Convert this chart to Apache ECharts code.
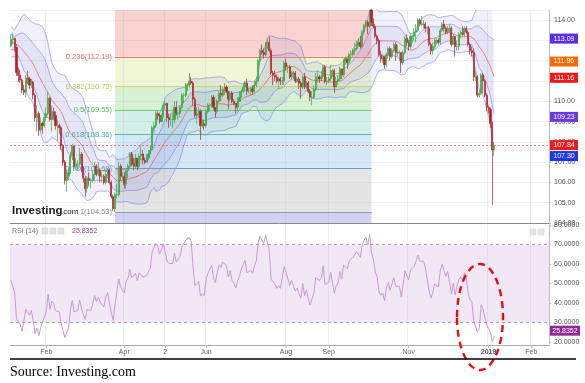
<!DOCTYPE html>
<html><head><meta charset="utf-8">
<script src="https://cdn.jsdelivr.net/npm/echarts@6/dist/echarts.min.js"></script>
<style>html,body{margin:0;padding:0;background:#fff}#c{width:585px;height:383px}</style>
</head><body><div id="c"></div>
<script>
// ---------------- DATA ----------------
const startDate = '2018-01-05';   // first visible daily bar
const totalSlots = 290;           // daily slots on the time axis (incl. empty future)
// closes before the visible range (Dec 7 2017 .. Jan 4 2018), used only for indicators
const preCloses = [113.1,113.5,113.5,113.6,112.6,112.4,112.6,112.6,112.9,113.3,113.3,113.3,113.2,113.2,113.3,112.9,112.7,112.6,112.3,112.5,112.7];
// daily candles [open, close, low, high]
const ohlc = [
[112.75,113.04,112.65,113.30],
[113.04,113.10,112.80,113.38],[113.10,112.65,112.45,113.15],[112.65,111.42,111.25,112.80],[111.42,111.27,110.95,111.65],[111.27,111.05,110.90,111.55],
[111.05,110.55,110.40,111.10],[110.55,110.45,110.30,110.80],[110.45,111.15,110.20,111.30],[111.15,111.10,110.85,111.50],[111.10,110.80,110.60,111.20],
[110.80,110.95,110.65,111.10],[110.95,110.30,110.10,111.00],[110.30,109.20,109.00,110.40],[109.20,109.40,108.50,109.80],[109.40,108.60,108.30,109.50],
[108.60,108.90,108.50,109.20],[108.90,108.80,108.40,109.00],[108.80,109.20,108.70,109.40],[109.20,109.40,109.00,109.70],[109.40,110.15,109.30,110.45],
[110.15,109.10,109.00,110.20],[109.10,109.50,108.50,109.80],[109.50,109.30,109.10,109.70],[109.30,108.80,108.60,109.50],[108.80,108.80,108.05,109.10],
[108.80,108.70,108.40,108.90],[108.70,107.80,107.60,108.80],[107.80,107.00,106.80,107.90],[107.00,106.10,105.90,107.10],[106.10,106.30,105.55,106.60],
[106.30,106.50,106.10,106.70],[106.50,107.30,106.40,107.50],[107.30,107.80,107.10,107.90],[107.80,106.80,106.70,107.80],[106.80,106.90,106.60,107.20],
[106.90,106.90,106.60,107.10],[106.90,107.40,106.80,107.70],[107.40,106.70,106.50,107.50],[106.70,106.20,106.00,106.80],[106.20,105.70,105.30,106.30],
[105.70,106.20,105.50,106.30],[106.20,106.10,105.80,106.50],[106.10,106.10,105.70,106.20],[106.10,106.40,106.00,106.60],[106.40,106.80,106.10,107.00],
[106.80,106.40,106.30,106.90],[106.40,106.60,106.30,107.00],[106.60,106.30,106.00,106.70],[106.30,106.30,106.00,106.50],[106.30,106.00,105.90,106.40],
[106.00,106.40,105.90,106.60],[106.40,106.60,106.20,106.70],[106.60,106.00,105.90,106.70],[106.00,105.30,105.20,106.10],[105.30,104.70,104.60,105.40],
[104.70,105.40,104.53,105.50],[105.40,105.40,105.20,105.90],[105.40,106.80,105.30,107.00],[106.80,106.30,106.10,106.90],[106.30,106.30,106.10,106.50],
[106.30,105.90,105.70,106.50],[105.90,106.60,105.70,106.70],[106.60,106.80,106.20,106.90],[106.80,107.40,106.70,107.50],[107.40,106.90,106.80,107.50],
[106.90,106.80,106.60,107.20],[106.80,107.20,106.70,107.40],[107.20,106.80,106.60,107.20],[106.80,107.30,106.70,107.40],[107.30,107.40,107.10,107.80],
[107.40,107.10,106.90,107.60],[107.10,107.00,106.90,107.20],[107.00,107.20,107.00,107.40],[107.20,107.40,107.10,107.60],[107.40,107.60,107.40,107.80],
[107.60,108.70,107.60,108.80],[108.70,108.80,108.50,109.00],[108.80,109.40,108.70,109.50],[109.40,109.30,109.10,109.50],[109.30,109.00,108.90,109.40],
[109.00,109.30,109.00,109.40],[109.30,109.80,109.20,109.90],[109.80,109.90,109.60,110.00],[109.90,109.20,109.00,109.90],[109.20,109.10,108.70,109.40],
[109.10,109.10,108.80,109.40],[109.10,109.10,108.70,109.40],[109.10,109.70,108.90,110.00],[109.70,109.40,109.30,110.00],[109.40,109.40,109.10,109.50],
[109.40,109.70,109.20,109.80],[109.70,110.30,109.60,110.40],[110.30,110.30,109.90,110.40],[110.30,110.80,110.20,110.90],[110.80,110.80,110.50,110.90],
[110.80,111.00,110.70,111.40],[111.00,110.90,110.80,111.20],[110.90,110.10,109.80,111.00],[110.10,109.30,109.20,110.20],[109.30,109.40,108.90,109.70],
[109.40,109.50,109.20,109.70],[109.50,108.80,108.10,109.60],[108.80,108.90,108.70,109.10],[108.90,108.80,108.60,109.10],[108.80,109.50,108.70,109.60],
[109.50,109.80,109.40,109.90],[109.80,109.80,109.50,109.90],[109.80,110.20,109.70,110.30],[110.20,109.70,109.60,110.30],[109.70,109.50,109.20,109.70],
[109.50,110.00,109.40,110.10],[110.00,110.40,109.90,110.50],[110.40,110.30,110.00,110.80],[110.30,110.60,110.20,110.70],[110.60,110.70,110.30,110.90],
[110.70,110.50,110.40,110.80],[110.50,110.10,109.60,110.50],[110.10,110.40,110.00,110.50],[110.40,110.00,109.90,110.50],[110.00,109.90,109.80,110.10],
[109.90,109.70,109.40,109.90],[109.70,110.00,109.50,110.20],[110.00,110.20,110.00,110.50],[110.20,110.50,110.20,110.60],[110.50,110.70,110.40,110.90],
[110.70,110.90,110.50,111.00],[110.90,110.50,110.30,111.10],[110.50,110.50,110.40,110.70],[110.50,110.60,110.30,110.70],[110.60,110.50,110.30,110.80],
[110.50,110.80,110.40,111.00],[110.80,111.00,110.70,111.20],[111.00,112.00,111.00,112.10],[112.00,112.50,111.80,112.60],[112.50,112.40,112.30,112.80],
[112.40,112.30,112.10,112.60],[112.30,112.90,112.20,112.90],[112.90,112.90,112.60,113.10],[112.90,112.50,112.40,113.17],[112.50,111.40,111.30,112.60],
[111.40,111.30,110.80,111.50],[111.30,111.20,111.00,111.50],[111.20,111.00,110.90,111.30],[111.00,111.10,110.60,111.20],[111.10,111.00,110.80,111.20],
[111.00,111.00,110.80,111.20],[111.00,111.90,110.80,112.00],[111.90,111.70,111.50,112.10],[111.70,111.70,111.40,111.80],[111.70,111.20,111.10,111.80],
[111.20,111.40,111.10,111.50],[111.40,111.40,111.10,111.50],[111.40,111.00,110.90,111.50],[111.00,111.10,110.90,111.20],[111.10,110.90,110.60,111.20],
[110.90,110.70,110.10,111.00],[110.70,111.20,110.60,111.30],[111.20,110.70,110.60,111.40],[110.70,110.90,110.60,111.00],[110.90,110.50,110.40,111.00],
[110.50,110.20,110.00,110.60],[110.20,110.20,109.80,110.50],[110.20,110.60,110.10,110.80],[110.60,111.20,110.50,111.40],[111.20,111.20,110.90,111.50],
[111.20,111.10,110.90,111.30],[111.10,111.20,111.00,111.50],[111.20,111.70,111.10,111.80],[111.70,111.00,110.90,111.80],[111.00,111.00,110.80,111.20],
[111.00,111.10,110.90,111.20],[111.10,111.50,111.00,111.80],[111.50,111.50,111.20,111.60],[111.50,110.70,110.40,111.60],[110.70,111.00,110.70,111.20],
[111.00,111.10,110.80,111.30],[111.10,111.60,111.00,111.70],[111.60,111.30,111.10,111.60],[111.30,112.00,111.20,112.10],[112.00,112.10,111.80,112.20],
[112.10,111.90,111.60,112.10],[111.90,112.30,111.80,112.40],[112.30,112.30,112.00,112.50],[112.30,112.50,112.20,112.60],[112.50,112.60,112.30,112.90],
[112.60,112.80,112.50,113.00],[112.80,112.90,112.70,113.10],[112.90,112.70,112.60,113.20],[112.70,113.40,112.60,113.50],[113.40,113.70,113.30,113.80],
[113.70,113.90,113.60,114.00],[113.90,113.70,113.30,114.00],[113.70,114.50,113.60,114.50],[114.50,113.90,113.70,114.55],[113.90,113.70,113.60,114.10],
[113.70,113.20,113.10,113.80],[113.20,113.00,112.80,113.30],[113.00,112.30,112.20,113.10],[112.30,112.10,111.90,112.50],[112.10,112.20,111.90,112.30],
[112.20,111.80,111.60,112.20],[111.80,112.30,111.70,112.40],[112.30,112.60,112.10,112.70],[112.60,112.20,112.00,112.70],[112.20,112.50,112.10,112.60],
[112.50,112.80,112.40,112.90],[112.80,112.40,112.00,112.90],[112.40,112.40,112.20,112.80],[112.40,112.40,112.00,112.50],[112.40,111.90,111.40,112.40],
[111.90,112.40,111.80,112.50],[112.40,113.10,112.30,113.20],[113.10,112.90,112.70,113.30],[112.90,112.70,112.50,113.00],[112.70,113.20,112.60,113.30],
[113.20,113.20,112.90,113.30],[113.20,113.40,113.00,113.60],[113.40,113.50,112.90,113.80],[113.50,114.00,113.40,114.10],[114.00,113.80,113.70,114.10],
[113.80,113.80,113.70,114.20],[113.80,113.80,113.60,114.00],[113.80,113.60,113.40,113.90],[113.60,113.60,113.30,113.70],[113.60,112.80,112.70,113.70],
[112.80,112.50,112.30,112.90],[112.50,112.70,112.30,112.90],[112.70,113.00,112.60,113.10],[113.00,113.00,112.80,113.10],[113.00,112.90,112.80,113.10],
[112.90,113.50,112.80,113.60],[113.50,113.80,113.40,113.90],[113.80,113.60,113.40,114.00],[113.60,113.40,113.30,113.70],[113.40,113.60,113.30,113.70],
[113.60,113.60,113.40,113.80],[113.60,112.80,112.70,113.70],[112.80,113.20,112.80,113.30],[113.20,112.70,112.20,113.20],[112.70,112.70,112.50,113.00],
[112.70,113.30,112.50,113.40],[113.30,113.40,113.10,113.50],[113.40,113.30,113.20,113.70],[113.30,113.60,113.20,113.70],[113.60,113.40,113.30,113.70],
[113.40,112.80,112.70,113.50],[112.80,112.50,112.30,112.90],[112.50,112.40,112.20,112.70],[112.40,111.20,111.00,112.60],[111.20,111.20,111.00,111.50],
[111.20,110.30,110.20,111.30],[110.30,110.40,110.20,110.60],[110.40,111.30,110.30,111.40],[111.30,111.00,110.40,111.40],[111.00,110.30,110.20,111.10],
[110.30,109.70,109.50,110.40],[109.70,109.60,109.40,109.80],[109.60,108.90,108.70,109.70],[108.90,107.60,104.90,109.00],[107.60,107.84,107.30,108.00]
];
const fibRatios = ['0','0.236','0.382','0.5','0.618','0.786','1'];
const fibLevels = [114.55,112.19,110.73,109.55,108.36,106.68,104.53];
const fibStart = '2018-03-26', fibEnd = '2018-10-04';
const tickDates  = ['2018-02-01','2018-04-02','2018-05-02','2018-06-01','2018-08-01','2018-09-03','2018-11-01','2019-01-01','2019-02-01'];
const tickLabels = ['Feb','Apr','2','Jun','Aug','Sep','Nov','2019','Feb'];
const priceTags = [113.09,111.96,111.16,109.23,107.84,107.30];
const priceTagColors = ['#5a2ee8','#ff6a00','#f01818','#6a38e6','#e81c1c','#1c36ee'];
const lastPrice = 107.84;
const rsiLast = 25.8352;
const rsiTicks = [20,30,40,50,60,70,80];

// ---------------- BUILD ----------------
const cats = [];
{ let d = new Date(startDate + 'T00:00:00Z');
  while (cats.length < totalSlots) {
    const wd = d.getUTCDay();
    if (wd !== 0 && wd !== 6) cats.push(d.toISOString().slice(0,10));
    d = new Date(d.getTime() + 86400000);
  } }
const labelMap = {};
tickDates.forEach((t,k)=>{ const i = cats.indexOf(t); if (i>=0) labelMap[i] = tickLabels[k]; });
const showTick = (idx) => labelMap[idx] !== undefined;

const closes = preCloses.concat(ohlc.map(r=>r[1]));
const P = preCloses.length;
const mid=[],up1=[],lo1=[],up2=[],lo2=[],d1=[],d2=[];
for (let j=0;j<ohlc.length;j++){
  const i=j+P, win=closes.slice(i-19,i+1);
  const m=win.reduce((a,b)=>a+b,0)/20;
  const sd=Math.sqrt(win.reduce((a,b)=>a+(b-m)*(b-m),0)/20);
  mid.push(m); up1.push(m+sd); lo1.push(m-sd); up2.push(m+2*sd); lo2.push(m-2*sd);
  d1.push(2*sd); d2.push(4*sd);
}
let ag=0, al=0;
for (let i=1;i<=14;i++){ const d=closes[i]-closes[i-1]; if(d>0) ag+=d; else al-=d; }
ag/=14; al/=14;
const rsiFull = new Array(closes.length).fill(null);
rsiFull[14] = 100-100/(1+ag/al);
for (let i=15;i<closes.length;i++){
  const d=closes[i]-closes[i-1];
  ag=(ag*13+Math.max(d,0))/14; al=(al*13+Math.max(-d,0))/14;
  rsiFull[i]= al===0?100:100-100/(1+ag/al);
}
const rsi = rsiFull.slice(P);

const fibFill = ['rgba(232,110,100,0.30)','rgba(205,225,120,0.30)','rgba(120,210,120,0.30)','rgba(110,205,180,0.30)','rgba(120,180,225,0.30)','rgba(180,180,180,0.35)','rgba(140,140,225,0.40)'];
const fibLine = ['#bbbbbb','#e87870','#c9d36a','#72c872','#58b8a8','#6aa2cc','#9a9a9a'];
const fibText = ['#999999','#e06a60','#bccb55','#58b858','#4aa8a0','#5d94c4','#8a8a8a'];

const areas = [];
for (let k=1;k<fibLevels.length;k++){
  areas.push([{coord:[fibStart, fibLevels[k-1]], itemStyle:{color:fibFill[k-1]}},{coord:[fibEnd, fibLevels[k]]}]);
}
areas.push([{coord:[fibStart, fibLevels[fibLevels.length-1]], itemStyle:{color:fibFill[6]}},{coord:[fibEnd, 104]}]);

const fibLines = fibLevels.map((v,k)=>[
  {coord:[fibStart,v], lineStyle:{color:fibLine[k],width:1,type:'solid'},
   label:{show:true,position:'start',distance:3,formatter:fibRatios[k]+'('+v.toFixed(2)+')',color:fibText[k],fontSize:7.5,fontFamily:'Arial, Liberation Sans'}},
  {coord:[fibEnd,v]}]);
fibLines.push([{coord:[fibStart,fibLevels[6]],lineStyle:{color:'#a9a9a9',type:[3,3],width:1},label:{show:false}},{coord:[fibEnd,fibLevels[0]]}]);
fibLines.push({yAxis:lastPrice, lineStyle:{color:'rgba(235,80,80,0.7)',type:[2,2],width:1}, label:{show:false}});

const bandColor = 'rgba(96,96,214,0.12)';
const bandLine = {color:'rgba(100,100,225,0.6)', width:0.8};
const lineS = (data, style, z, extra) => Object.assign({type:'line', data, xAxisIndex:0, yAxisIndex:0, symbol:'none', showSymbol:false, silent:true, lineStyle:style, z, animation:false}, extra||{});

const chart = echarts.init(document.getElementById('c'), null, {renderer:'canvas'});
const option = {
  animation:false,
  backgroundColor:'#fff',
  grid:[{left:10,right:36,top:10,height:213},{left:10,right:36,top:225,height:120}],
  xAxis:[
    {type:'category',gridIndex:0,data:cats,boundaryGap:true,
     axisLine:{show:true,lineStyle:{color:'#8a8a8a'}},axisTick:{show:false},axisLabel:{show:false},
     splitLine:{show:true,interval:(i)=>showTick(i),lineStyle:{color:'#eeeeee'}}},
    {type:'category',gridIndex:1,data:cats,boundaryGap:true,
     axisLine:{show:true,lineStyle:{color:'#aaaaaa'}},
     axisTick:{show:true,alignWithLabel:true,interval:(i)=>showTick(i),length:3,lineStyle:{color:'#bbb'}},
     axisLabel:{interval:(i)=>showTick(i),formatter:(v,i)=> labelMap[i]==='2019'?'{b|2019}':(labelMap[i]||''),
       fontSize:7,color:'#666',margin:4,fontFamily:'Arial, Liberation Sans',rich:{b:{fontWeight:'bold',fontSize:7,color:'#555'}}},
     splitLine:{show:true,interval:(i)=>showTick(i),lineStyle:{color:'#eeeeee'}}}
  ],
  yAxis:[
    {type:'value',gridIndex:0,position:'right',min:104,max:114.5,interval:1,
     axisLine:{show:true,lineStyle:{color:'#bdbdbd'}},axisTick:{show:true,length:2,lineStyle:{color:'#bbb'}},
     axisLabel:{fontSize:7,color:'#555',margin:5,showMaxLabel:false,formatter:(v)=>v.toFixed(2),fontFamily:'Arial, Liberation Sans'},
     splitLine:{show:true,lineStyle:{color:'#f1f1f1'}}},
    {type:'value',gridIndex:1,position:'right',min:18.5,max:80,
     axisLine:{show:true,lineStyle:{color:'#bdbdbd'}},
     axisTick:{show:true,length:2,customValues:rsiTicks,lineStyle:{color:'#bbb'}},
     axisLabel:{fontSize:7,color:'#555',margin:5,customValues:rsiTicks,formatter:(v)=>v.toFixed(4),fontFamily:'Arial, Liberation Sans'},
     splitLine:{show:false}}
  ],
  series:[
    {type:'line',name:'fib',xAxisIndex:0,yAxisIndex:0,data:[],z:1,silent:true,
     markArea:{silent:true,data:areas},
     markLine:{silent:true,symbol:'none',animation:false,data:fibLines}},
    lineS(lo2,{width:0,opacity:0},2,{stack:'outer'}),
    lineS(d2,{width:0,opacity:0},2,{stack:'outer',areaStyle:{color:bandColor}}),
    lineS(lo1,{width:0,opacity:0},2,{stack:'inner'}),
    lineS(d1,{width:0,opacity:0},2,{stack:'inner',areaStyle:{color:bandColor}}),
    lineS(up2,bandLine,3), lineS(lo2,bandLine,3),
    lineS(up1,bandLine,3), lineS(lo1,bandLine,3),
    lineS(mid,{color:'rgba(220,70,70,0.75)',width:0.8},3),
    {type:'candlestick',xAxisIndex:0,yAxisIndex:0,data:ohlc,z:5,barWidth:1.6,silent:true,
     itemStyle:{color:'#3aa83e',color0:'#b3222b',borderColor:'#3aa83e',borderColor0:'#b3222b',borderWidth:0.7}},
    {type:'line',xAxisIndex:1,yAxisIndex:1,data:rsi,symbol:'none',showSymbol:false,silent:true,z:4,
     lineStyle:{color:'#c89ad4',width:1},
     markArea:{silent:true,itemStyle:{color:'rgba(205,160,215,0.25)'},data:[[{yAxis:30},{yAxis:70}]]},
     markLine:{silent:true,symbol:'none',label:{show:false},lineStyle:{color:'#b0a0b0',type:[3,3],width:1},data:[{yAxis:30},{yAxis:70}]}}
  ]
};
chart.setOption(option);

// overlay texts / tags positioned through the chart's own scales
const g = [];
priceTags.forEach((v,k)=>{
  const y = chart.convertToPixel({yAxisIndex:0}, v);
  g.push({type:'rect',shape:{x:550,y:y-5,width:28,height:10},style:{fill:priceTagColors[k]},z:100});
  g.push({type:'text',x:564,y:y,style:{text:v.toFixed(2),fill:'#fff',fontSize:7,fontFamily:'Arial, Liberation Sans',align:'center',verticalAlign:'middle'},z:101});
});
{ const y = chart.convertToPixel({yAxisIndex:1}, rsiLast);
  g.push({type:'rect',shape:{x:550,y:y-5,width:30,height:10},style:{fill:'#8e2a90'},z:100});
  g.push({type:'text',x:565,y:y,style:{text:rsiLast.toFixed(4),fill:'#fff',fontSize:7,fontFamily:'Arial, Liberation Sans',align:'center',verticalAlign:'middle'},z:101}); }
g.push({type:'text',x:12,y:231,style:{text:'RSI (14)  ▾',fill:'#777',fontSize:7,fontFamily:'Arial, Liberation Sans',verticalAlign:'middle'},z:50});
[42,50,58].forEach(x=>g.push({type:'rect',shape:{x:x,y:228,width:6,height:6},style:{fill:'#e4e4e4',stroke:'#cfcfcf',lineWidth:0.5},z:50}));
g.push({type:'text',x:72,y:231,style:{text:rsiLast.toFixed(4),fill:'#a040a8',fontSize:7,fontFamily:'Arial, Liberation Sans',verticalAlign:'middle'},z:50});
[530,538].forEach(x=>g.push({type:'rect',shape:{x:x,y:229,width:6,height:6},style:{fill:'#e4e4e4',stroke:'#d0d0d0',lineWidth:0.5},z:50}));
g.push({type:'text',x:12,y:211,style:{text:'Investing',fill:'#1a1a1a',fontSize:11.5,fontWeight:'bold',fontFamily:'Arial, Liberation Sans',verticalAlign:'middle'},z:60});
g.push({type:'text',x:61,y:212,style:{text:'.com',fill:'#1a1a1a',fontSize:8,fontFamily:'Arial, Liberation Sans',verticalAlign:'middle'},z:60});
g.push({type:'ellipse',shape:{cx:480,cy:317,rx:23,ry:53},style:{fill:'none',stroke:'#e01010',lineWidth:2.4,lineDash:[7,5]},z:90});
g.push({type:'line',shape:{x1:10,y1:359,x2:576,y2:359},style:{stroke:'#000',lineWidth:1.5},z:90});
g.push({type:'text',x:10,y:372,style:{text:'Source: Investing.com',fill:'#000',fontSize:14,fontFamily:'Liberation Serif, Times New Roman, serif',verticalAlign:'middle'},z:90});
chart.setOption({graphic:g});
</script></body></html>
